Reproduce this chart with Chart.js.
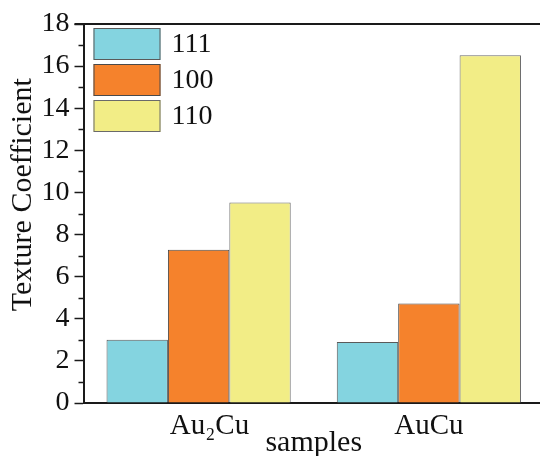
<!DOCTYPE html>
<html><head><meta charset="utf-8">
<script src="https://cdn.jsdelivr.net/npm/chart.js@4.4.0/dist/chart.umd.min.js"></script>
<style>html,body{margin:0;padding:0;overflow:hidden;background:#fff}</style>
</head><body>
<canvas id="c" width="544" height="456" style="display:block;width:544px;height:456px"></canvas>
<script>
const categories = ['\u2002\u00A0Au\u2082Cu', 'AuCu'];
const seriesLabels = ['111', '100', '110'];
const values111 = [3.0, 2.9];
const values100 = [7.28, 4.72];
const values110 = [9.52, 16.52];
const yMin = 0, yMax = 18, yStep = 2;
const minorTickValues = [1, 3, 5, 7, 9, 11, 13, 15, 17];
const xTitle = 'samples';
const yTitle = '\u00A0\u00A0\u00A0\u00A0\u00A0Texture Coefficient';

const colors = ['#84d4e0', '#f5822c', '#f2ed86'];
const borders = ['#5a5a5a', '#4a4a4a', '#6a6a6a'];
const FONT = '"Liberation Serif", "Times New Roman", serif';
const AX = '#1a1a1a';

const framePlugin = {
  id: 'frame',
  afterDraw(chart) {
    const ctx = chart.ctx, a = chart.chartArea, y = chart.scales.y;
    ctx.save();
    ctx.strokeStyle = AX;
    ctx.lineWidth = 2;
    ctx.beginPath();
    ctx.moveTo(a.left - 9, a.top);
    ctx.lineTo(a.right, a.top);
    ctx.stroke();
    ctx.lineWidth = 1.5;
    minorTickValues.forEach(v => {
      const py = Math.round(y.getPixelForValue(v)) + 0.5;
      ctx.beginPath();
      ctx.moveTo(a.left - 5, py);
      ctx.lineTo(a.left, py);
      ctx.stroke();
    });
    // legend
    const ds = chart.data.datasets;
    const bx = a.left + 10, by = a.top + 4, bw = 67, bh = 32, step = 36;
    ctx.font = '28px ' + FONT;
    ctx.textBaseline = 'middle';
    ctx.textAlign = 'left';
    ds.forEach((d, i) => {
      const top = by + i * step;
      ctx.fillStyle = d.backgroundColor;
      ctx.fillRect(bx, top, bw, bh);
      ctx.strokeStyle = d.borderColor;
      ctx.lineWidth = 1;
      ctx.strokeRect(bx + 0.5, top + 0.5, bw - 1, bh - 1);
      ctx.fillStyle = '#111';
      ctx.fillText(d.label, bx + bw + 11, top + bh / 2 + 1);
    });
    ctx.restore();
  }
};

new Chart(document.getElementById('c'), {
  type: 'bar',
  data: {
    labels: categories,
    datasets: [
      { label: seriesLabels[0], data: values111, backgroundColor: colors[0], borderColor: borders[0], borderWidth: 1 },
      { label: seriesLabels[1], data: values100, backgroundColor: colors[1], borderColor: borders[1], borderWidth: 1 },
      { label: seriesLabels[2], data: values110, backgroundColor: colors[2], borderColor: borders[2], borderWidth: 1 }
    ]
  },
  options: {
    responsive: false,
    animation: false,
    layout: { padding: { top: 24, left: 0, right: 0, bottom: 0 } },
    plugins: { legend: { display: false }, tooltip: { enabled: false } },
    datasets: { bar: { categoryPercentage: 0.8, barPercentage: 1.0 } },
    scales: {
      x: {
        grid: { display: true, drawOnChartArea: false, drawTicks: false },
        border: { display: true, color: AX, width: 2 },
        ticks: { color: '#111', font: { family: FONT, size: 29 }, padding: 6, maxRotation: 0 },
        title: { display: true, text: xTitle, color: '#111', font: { family: FONT, size: 30 }, padding: { top: 0, bottom: -5 } },
        afterFit(s) { s.height = 53; }
      },
      y: {
        min: yMin, max: yMax,
        grid: { drawOnChartArea: false, drawTicks: true, tickLength: 9, tickColor: AX, tickWidth: 1.5 },
        border: { display: true, color: AX, width: 2 },
        ticks: { stepSize: yStep, color: '#111', font: { family: FONT, size: 28 }, padding: 5 },
        title: { display: true, text: yTitle, color: '#111', font: { family: FONT, size: 30 }, padding: { top: 5, bottom: 0 } },
        afterFit(s) { s.width = 83.5; }
      }
    }
  },
  plugins: [framePlugin]
});
</script>
</body></html>
